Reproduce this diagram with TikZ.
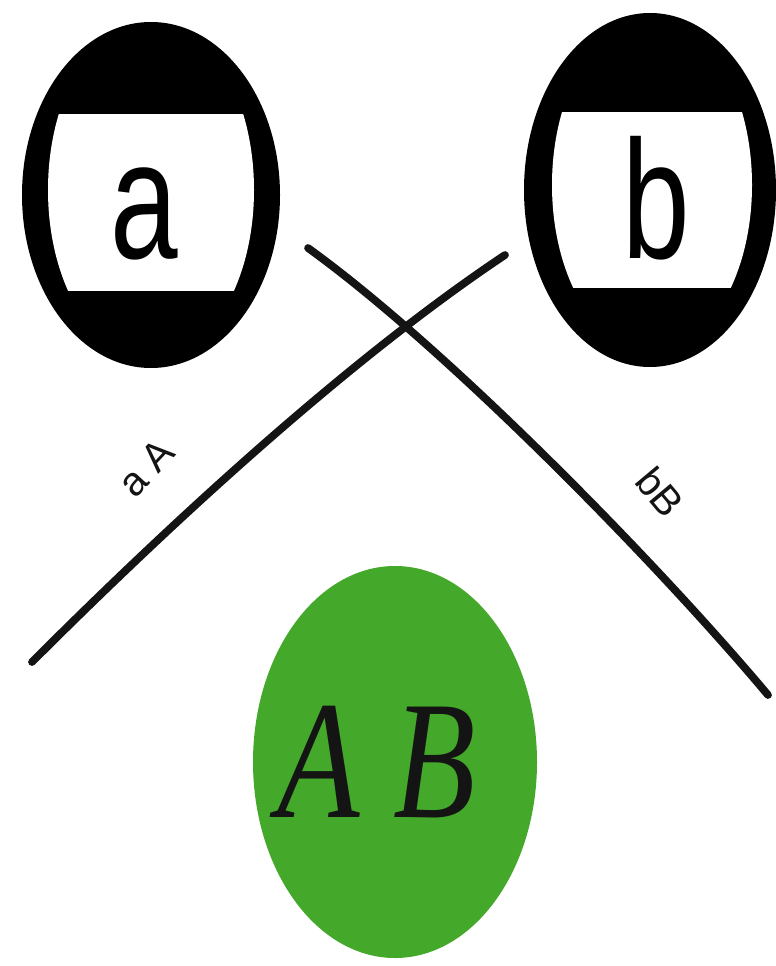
\documentclass[tikz,border=0pt]{standalone}
\usepackage{fontspec}
\setmainfont{Liberation Serif}
\setsansfont{Liberation Sans}
\usepackage{graphicx}
\definecolor{cellgreen}{RGB}{68,168,42}
\definecolor{inkclr}   {RGB}{20, 20, 20}

\begin{document}
\begin{tikzpicture}[x=0.02cm, y=-0.02cm,
  gamete/.style={font=\sffamily\fontsize{96}{96}\selectfont, inner sep=0pt, anchor=base},
  allele/.style={font=\sffamily\fontsize{23}{23}\selectfont, inner sep=0pt, inkclr},
  crossline/.style={line width=4.4pt, line cap=round, inkclr}]
  \useasboundingbox (0,0) rectangle (775,966);
  % gamete a
  \fill[black] (151,195) ellipse [x radius=129, y radius=173];
  \begin{scope}
    \clip (0,115) rectangle (320,290);
    \fill[white] (151,190) ellipse [x radius=103, y radius=170];
  \end{scope}
  \node[gamete] (a) at (144,258) {\scalebox{0.72}[1]{a}};
  % gamete b
  \fill[black] (650,190) ellipse [x radius=126, y radius=177];
  \begin{scope}
    \clip (500,113) rectangle (775,287);
    \fill[white] (652,185) ellipse [x radius=100, y radius=167];
  \end{scope}
  \node[gamete] (b) at (656,258) {\scalebox{0.72}[1]{b}};
  % crossing lines
  \coordinate (aAlo) at (32,662);
  \coordinate (aAhi) at (505,255);
  \coordinate (bBhi) at (308,248);
  \coordinate (bBlo) at (768,695);
  \draw[crossline] (aAlo) .. controls (182,512) and (355,355) .. (aAhi);
  \draw[crossline] (bBhi) .. controls (448,349) and (658,564) .. (bBlo);
  \node[allele, rotate=47] (la) at (146,468) {a A};
  \node[allele, rotate=-50] (lb) at (660,492) {bB};
  % zygote
  \fill[cellgreen] (395,762) ellipse [x radius=142, y radius=196];
  \node[font=\itshape\fontsize{96}{96}\selectfont, anchor=base, inner sep=0pt, inkclr]
    (ab) at (377,817) {\scalebox{0.8}[1]{A B}};
\end{tikzpicture}
\end{document}
